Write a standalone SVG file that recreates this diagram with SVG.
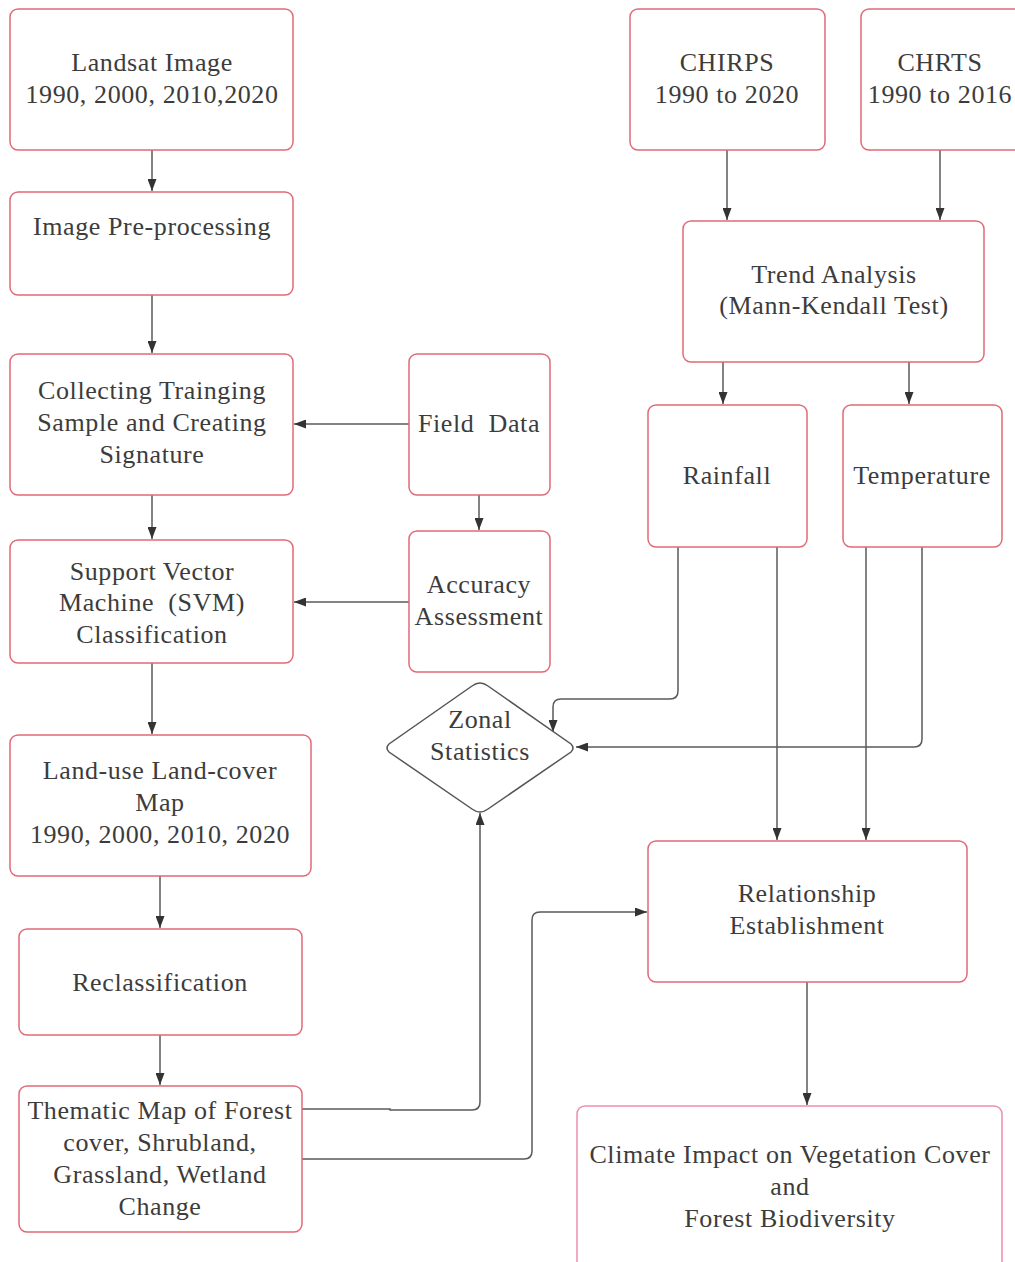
<svg xmlns="http://www.w3.org/2000/svg" width="1015" height="1262" viewBox="0 0 1015 1262">
<defs>
<style>
.box{fill:#fff;stroke:#e06a78;stroke-width:1.5}
.pink{stroke:#ec8fae}
.t{font-family:"Liberation Serif","Times New Roman",serif;font-size:26px;fill:#3c3c3c;text-anchor:middle;white-space:pre;letter-spacing:0.6px}
.c{fill:none;stroke:#5a5a5a;stroke-width:1.5}
</style>
<marker id="ah" viewBox="0 0 12 9" refX="12" refY="4.5" markerWidth="12" markerHeight="9" markerUnits="userSpaceOnUse" orient="auto">
<path d="M0,0 L12,4.5 L0,9 z" fill="#333"/>
</marker>
</defs>
<rect width="1015" height="1262" fill="#fff"/>
<g id="connectors">
<path class="c" d="M152,150 V191" marker-end="url(#ah)"/>
<path class="c" d="M152,295 V353" marker-end="url(#ah)"/>
<path class="c" d="M152,495 V539" marker-end="url(#ah)"/>
<path class="c" d="M152,663 V734" marker-end="url(#ah)"/>
<path class="c" d="M160,876 V928" marker-end="url(#ah)"/>
<path class="c" d="M160,1035 V1085" marker-end="url(#ah)"/>
<path class="c" d="M409,424 H294" marker-end="url(#ah)"/>
<path class="c" d="M479,495 V530" marker-end="url(#ah)"/>
<path class="c" d="M409,602 H294" marker-end="url(#ah)"/>
<path class="c" d="M727,150 V220" marker-end="url(#ah)"/>
<path class="c" d="M940,150 V220" marker-end="url(#ah)"/>
<path class="c" d="M723,362 V404" marker-end="url(#ah)"/>
<path class="c" d="M909,362 V404" marker-end="url(#ah)"/>
<path class="c" d="M678,547 V691 Q678,699 670,699 H561 Q553,699 553,707 V732" marker-end="url(#ah)"/>
<path class="c" d="M922,547 V739 Q922,747 914,747 H576" marker-end="url(#ah)"/>
<path class="c" d="M777,547 V840" marker-end="url(#ah)"/>
<path class="c" d="M866,547 V840" marker-end="url(#ah)"/>
<path class="c" d="M302,1109 H390 V1110 H472 Q480,1110 480,1102 V813" marker-end="url(#ah)"/>
<path class="c" d="M302,1159 H524 Q532,1159 532,1151 V920 Q532,912 540,912 H647" marker-end="url(#ah)"/>
<path class="c" d="M807,982 V1105" marker-end="url(#ah)"/>
</g>
<g id="landsat"><rect class="box" x="10" y="9" width="283" height="141" rx="8"/><text class="t" x="152" y="71">Landsat Image</text><text class="t" x="152" y="103">1990, 2000, 2010,2020</text></g>
<g id="preprocessing"><rect class="box" x="10" y="192" width="283" height="103" rx="8"/><text class="t" x="152" y="235">Image Pre-processing</text></g>
<g id="training"><rect class="box" x="10" y="354" width="283" height="141" rx="8"/><text class="t" x="152" y="399">Collecting Trainging</text><text class="t" x="152" y="431">Sample and Creating</text><text class="t" x="152" y="463">Signature</text></g>
<g id="svm"><rect class="box" x="10" y="540" width="283" height="123" rx="8"/><text class="t" x="152" y="580">Support Vector</text><text class="t" x="152" y="611">Machine  (SVM)</text><text class="t" x="152" y="643">Classification</text></g>
<g id="lulc"><rect class="box" x="10" y="735" width="301" height="141" rx="8"/><text class="t" x="160" y="779">Land-use Land-cover</text><text class="t" x="160" y="811">Map</text><text class="t" x="160" y="843">1990, 2000, 2010, 2020</text></g>
<g id="reclass"><rect class="box" x="19" y="929" width="283" height="106" rx="8"/><text class="t" x="160" y="991">Reclassification</text></g>
<g id="thematic"><rect class="box" x="19" y="1086" width="283" height="146" rx="8"/><text class="t" x="160" y="1119">Thematic Map of Forest</text><text class="t" x="160" y="1151">cover, Shrubland,</text><text class="t" x="160" y="1183">Grassland, Wetland</text><text class="t" x="160" y="1215">Change</text></g>
<g id="field"><rect class="box" x="409" y="354" width="141" height="141" rx="8"/><text class="t" x="479" y="432">Field  Data</text></g>
<g id="accuracy"><rect class="box" x="409" y="531" width="141" height="141" rx="8"/><text class="t" x="479" y="593">Accuracy</text><text class="t" x="479" y="625">Assessment</text></g>
<g id="zonal"><path d="M480,683 Q484,683 488,686 L571,744 Q575,748 571,752 L488,809 Q484,812 480,812 Q476,812 472,809 L389,752 Q385,748 389,744 L472,686 Q476,683 480,683 z" fill="#fff" stroke="#555" stroke-width="1.5"/><text class="t" x="480" y="728">Zonal</text><text class="t" x="480" y="760">Statistics</text></g>
<g id="chirps"><rect class="box" x="630" y="9" width="195" height="141" rx="8"/><text class="t" x="727" y="71">CHIRPS</text><text class="t" x="727" y="103">1990 to 2020</text></g>
<g id="chrts"><rect class="box" x="861" y="9" width="170" height="141" rx="8"/><text class="t" x="940" y="71">CHRTS</text><text class="t" x="940" y="103">1990 to 2016</text></g>
<g id="trend"><rect class="box" x="683" y="221" width="301" height="141" rx="8"/><text class="t" x="834" y="283">Trend Analysis</text><text class="t" x="834" y="314">(Mann-Kendall Test)</text></g>
<g id="rainfall"><rect class="box" x="648" y="405" width="159" height="142" rx="8"/><text class="t" x="727" y="484">Rainfall</text></g>
<g id="temperature"><rect class="box" x="843" y="405" width="159" height="142" rx="8"/><text class="t" x="922" y="484">Temperature</text></g>
<g id="relationship"><rect class="box" x="648" y="841" width="319" height="141" rx="8"/><text class="t" x="807" y="902">Relationship</text><text class="t" x="807" y="934">Establishment</text></g>
<g id="climate"><rect class="box pink" x="577" y="1106" width="425" height="170" rx="8"/><text class="t" x="790" y="1163">Climate Impact on Vegetation Cover</text><text class="t" x="790" y="1195">and</text><text class="t" x="790" y="1227">Forest Biodiversity</text></g>
</svg>
